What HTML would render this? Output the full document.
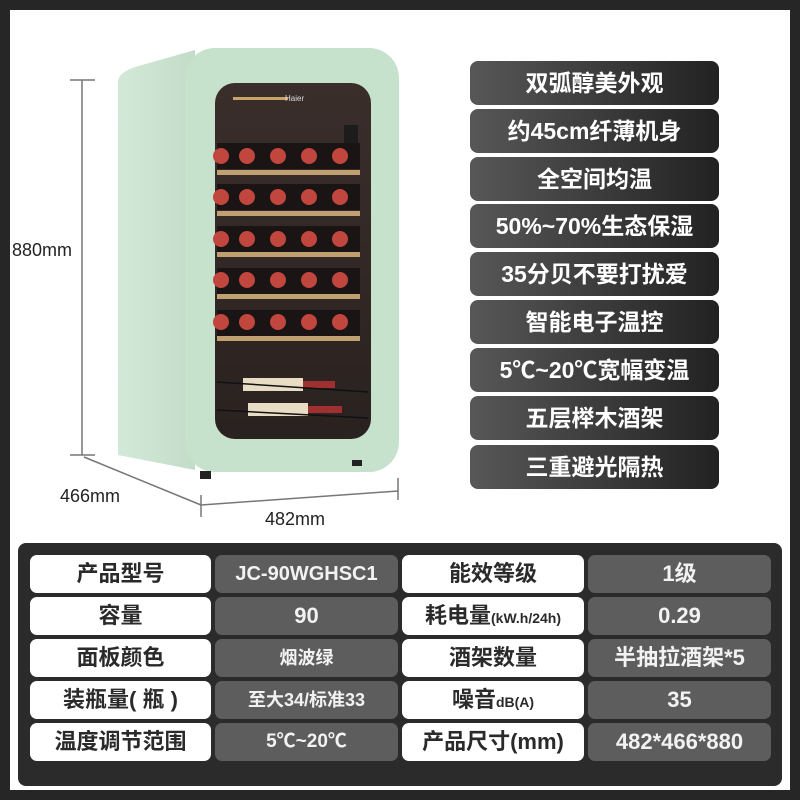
<!DOCTYPE html>
<html><head><meta charset="utf-8"><style>
html,body{margin:0;padding:0}
body{width:800px;height:800px;background:#262626;position:relative;overflow:hidden;font-family:"Liberation Sans","Noto Sans CJK SC",sans-serif}
.white{position:absolute;left:10px;top:10px;width:780px;height:780px;background:#fff}
.lab{position:absolute;left:470px;width:249px;height:44px;border-radius:8px;background:linear-gradient(90deg,#575757,#3a3a3a 55%,#222);color:#fff;font-weight:bold;font-size:23px;line-height:44px;text-align:center}
.panel{position:absolute;left:18px;top:543px;width:764px;height:243px;background:#2b2b2b;border-radius:8px}
.c{position:absolute;height:38px;border-radius:7px;text-align:center;line-height:38px;font-weight:bold;font-size:22px}
.w{background:#fff;color:#2a2a2a}
.g{background:#5d5d5d;color:#f2f2f2}
.dim{position:absolute;font-size:18px;color:#222}
</style></head><body>
<div class="white"></div>
<svg style="position:absolute;left:0;top:0" width="800" height="800">
<defs>
<linearGradient id="side" x1="0" x2="1"><stop offset="0" stop-color="#d3e9d8"/><stop offset="1" stop-color="#c2dcc8"/></linearGradient>
<linearGradient id="win" x1="0" x2="0" y1="0" y2="1"><stop offset="0" stop-color="#3a2e2b"/><stop offset="1" stop-color="#2a2220"/></linearGradient>
</defs>
<g stroke="#777" stroke-width="1.5" fill="none">
<line x1="82" y1="80" x2="82" y2="455"/><line x1="70" y1="80" x2="95" y2="80"/><line x1="70" y1="455" x2="95" y2="455"/>
<line x1="84" y1="457" x2="201" y2="505"/>
<line x1="201" y1="505" x2="398" y2="491"/>
<line x1="201" y1="495" x2="201" y2="517"/><line x1="398" y1="478" x2="398" y2="500"/>
</g>
<path d="M118 80 Q120 72 135 67 L195 50 L195 470 L118 455 Z" fill="url(#side)"/>
<rect x="185" y="48" width="214" height="424" rx="30" fill="#c6e1cc"/>
<rect x="215" y="83" width="156" height="356" rx="20" fill="url(#win)"/>
<rect x="233" y="97" width="55" height="3" fill="#c9a46a"/>
<text x="285" y="101" font-size="8" fill="#ddd" font-family="Liberation Sans">Haier</text>
<rect x="344" y="125" width="14" height="30" fill="#1c1c1c"/>
<g fill="#c0a070">
<rect x="217" y="170" width="143" height="5"/><rect x="217" y="211" width="143" height="5"/><rect x="217" y="252" width="143" height="5"/><rect x="217" y="294" width="143" height="5"/><rect x="217" y="336" width="143" height="5"/>
</g>
<g fill="#1a1414">
<rect x="217" y="143" width="143" height="26"/><rect x="217" y="184" width="143" height="26"/><rect x="217" y="226" width="143" height="26"/><rect x="217" y="268" width="143" height="26"/><rect x="217" y="310" width="143" height="26"/>
</g>
<g fill="#c0463e">
<g id="r1"><circle cx="221" cy="156" r="8"/><circle cx="247" cy="156" r="8"/><circle cx="278" cy="156" r="8"/><circle cx="309" cy="156" r="8"/><circle cx="340" cy="156" r="8"/></g>
<use href="#r1" y="41"/><use href="#r1" y="83"/><use href="#r1" y="124"/><use href="#r1" y="166"/>
</g>
<rect x="243" y="378" width="60" height="13" fill="#e9dcc4"/><rect x="303" y="381" width="32" height="7" fill="#a03030"/>
<rect x="248" y="403" width="60" height="13" fill="#e9dcc4"/><rect x="308" y="406" width="34" height="7" fill="#a03030"/>
<g stroke="#111" stroke-width="1.5"><line x1="217" y1="382" x2="368" y2="392"/><line x1="217" y1="410" x2="368" y2="418"/></g>
<g fill="#222"><rect x="200" y="471" width="11" height="8"/><rect x="352" y="460" width="10" height="6"/></g>
</svg>
<div class="dim" style="left:12px;top:240px">880mm</div>
<div class="dim" style="left:60px;top:486px">466mm</div>
<div class="dim" style="left:265px;top:509px">482mm</div>

<div class="lab" style="top:61px">双弧醇美外观</div>
<div class="lab" style="top:109px">约45cm纤薄机身</div>
<div class="lab" style="top:157px">全空间均温</div>
<div class="lab" style="top:204px">50%~70%生态保湿</div>
<div class="lab" style="top:252px">35分贝不要打扰爱</div>
<div class="lab" style="top:300px">智能电子温控</div>
<div class="lab" style="top:348px">5℃~20℃宽幅变温</div>
<div class="lab" style="top:396px">五层榉木酒架</div>
<div class="lab" style="top:445px">三重避光隔热</div>

<div class="panel"></div>
<div class="c w" style="left:30px;top:555px;width:181px">产品型号</div>
<div class="c g" style="left:215px;top:555px;width:183px;font-size:20px">JC-90WGHSC1</div>
<div class="c w" style="left:402px;top:555px;width:182px">能效等级</div>
<div class="c g" style="left:588px;top:555px;width:183px">1级</div>

<div class="c w" style="left:30px;top:597px;width:181px">容量</div>
<div class="c g" style="left:215px;top:597px;width:183px">90</div>
<div class="c w" style="left:402px;top:597px;width:182px">耗电量<span style="font-size:14px">(kW.h/24h)</span></div>
<div class="c g" style="left:588px;top:597px;width:183px">0.29</div>

<div class="c w" style="left:30px;top:639px;width:181px">面板颜色</div>
<div class="c g" style="left:215px;top:639px;width:183px;font-size:18px">烟波绿</div>
<div class="c w" style="left:402px;top:639px;width:182px">酒架数量</div>
<div class="c g" style="left:588px;top:639px;width:183px">半抽拉酒架*5</div>

<div class="c w" style="left:30px;top:681px;width:181px">装瓶量( 瓶 )</div>
<div class="c g" style="left:215px;top:681px;width:183px;font-size:18px">至大34/标准33</div>
<div class="c w" style="left:402px;top:681px;width:182px">噪音<span style="font-size:14px">dB(A)</span></div>
<div class="c g" style="left:588px;top:681px;width:183px">35</div>

<div class="c w" style="left:30px;top:723px;width:181px">温度调节范围</div>
<div class="c g" style="left:215px;top:723px;width:183px;font-size:19px">5℃~20℃</div>
<div class="c w" style="left:402px;top:723px;width:182px">产品尺寸(mm)</div>
<div class="c g" style="left:588px;top:723px;width:183px">482*466*880</div>
</body></html>
